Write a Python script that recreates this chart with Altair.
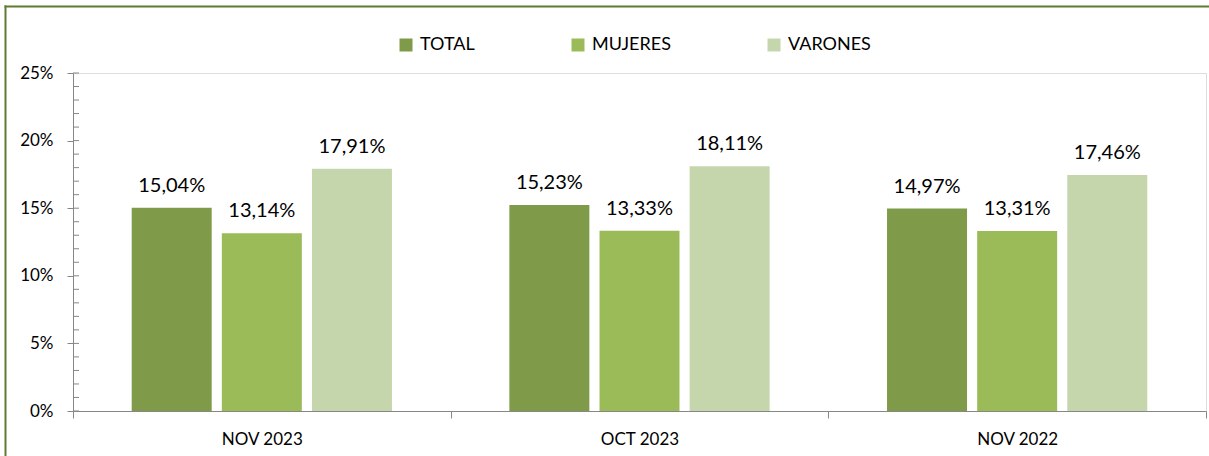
import altair as alt
import pandas as pd

periodos = ["NOV 2023", "OCT 2023", "NOV 2022"]
series = ["TOTAL", "MUJERES", "VARONES"]
total = [15.04, 15.23, 14.97]
mujeres = [13.14, 13.33, 13.31]
varones = [17.91, 18.11, 17.46]
colores = ["#7F9A48", "#9BBB59", "#C6D6AC"]
y_major = [0, 5, 10, 15, 20, 25]
y_minor = list(range(0, 26))

rows = []
for i, p in enumerate(periodos):
    for s, vals in zip(series, [total, mujeres, varones]):
        rows.append({"periodo": p, "serie": s, "valor": vals[i]})
df = pd.DataFrame(rows)
df_minor = pd.DataFrame({"v": y_minor})
df_one = pd.DataFrame({"k": [0]})

FONT = "Lato"
GRAY = "#878787"
FRAME = "#5E7B32"

x_enc = alt.X(
    "periodo:N", sort=periodos,
    scale=alt.Scale(paddingInner=0, paddingOuter=0),
    axis=alt.Axis(title=None, labelAngle=0, tickBand="extent", tickSize=7,
                  tickColor=GRAY, domainColor=GRAY, labelFontSize=17,
                  labelPadding=13, labelColor="black", labelFont=FONT),
)
xoff_enc = alt.XOffset("serie:N", sort=series,
                       scale=alt.Scale(paddingInner=0.11, paddingOuter=0.65))
y_scale = alt.Scale(domain=[0, 25], nice=False)
y_enc = alt.Y(
    "valor:Q", scale=y_scale,
    axis=alt.Axis(title=None, values=y_major, grid=False, tickSize=6,
                  tickColor=GRAY, domainColor=GRAY, labelFontSize=17,
                  labelPadding=14, labelColor="black", labelFont=FONT,
                  labelExpr="datum.value + '%'"),
)
color_enc = alt.Color(
    "serie:N", sort=series,
    scale=alt.Scale(domain=series, range=colores),
    legend=alt.Legend(title=None, orient="none", direction="horizontal",
                      columns=3, legendX=324, legendY=-37, symbolType="square",
                      symbolSize=169, symbolStrokeWidth=0, labelFontSize=18,
                      labelFont=FONT, labelColor="black", labelOffset=5,
                      columnPadding=94, padding=0),
)

base = alt.Chart(df)
bars = base.mark_bar(size=80).encode(x=x_enc, xOffset=xoff_enc, y=y_enc, color=color_enc)
labels = base.transform_calculate(
    label="replace(format(datum.valor / 100, '.2%'), '.', ',')"
).mark_text(baseline="alphabetic", dy=-16, fontSize=20, font=FONT, color="black").encode(
    x=x_enc, xOffset=xoff_enc, y=alt.Y("valor:Q", scale=y_scale), text="label:N"
)
minor = alt.Chart(df_minor).mark_rule(color=GRAY, strokeWidth=1).encode(
    y=alt.Y("v:Q", scale=y_scale), x=alt.value(0), x2=alt.value(6)
)
frame_left = alt.Chart(df_one).mark_rect(color=FRAME, strokeWidth=0).encode(
    x=alt.value(-68.5), x2=alt.value(-66.5), y=alt.value(-67.5), y2=alt.value(383)
)
frame_top = alt.Chart(df_one).mark_rect(color=FRAME, strokeWidth=0).encode(
    x=alt.value(-68.5), x2=alt.value(1136), y=alt.value(-67.5), y2=alt.value(-65.5)
)

chart = alt.layer(frame_left, frame_top, bars, labels, minor).properties(
    width=1133, height=338,
    autosize=alt.AutoSizeParams(type="none"),
    padding={"left": 73, "top": 73, "right": 3, "bottom": 45},
).configure_view(stroke=None).configure(background="white")

chart.save("out.html", embed_options={"renderer": "svg", "actions": False})
